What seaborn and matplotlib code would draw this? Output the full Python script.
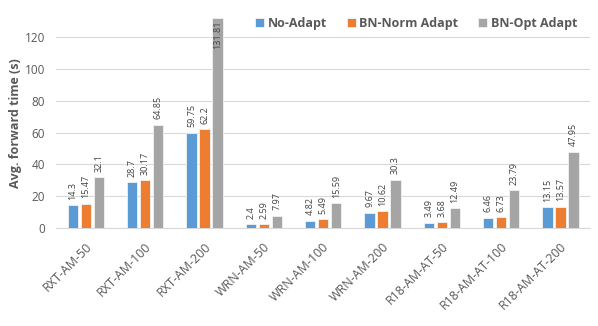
import matplotlib
matplotlib.use("Agg")
import matplotlib.pyplot as plt
import matplotlib.transforms as mtransforms
import seaborn as sns
import pandas as pd

categories = ["RXT-AM-50", "RXT-AM-100", "RXT-AM-200", "WRN-AM-50", "WRN-AM-100",
              "WRN-AM-200", "R18-AM-AT-50", "R18-AM-AT-100", "R18-AM-AT-200"]
series_names = ["No-Adapt", "BN-Norm Adapt", "BN-Opt Adapt"]
no_adapt = [14.3, 28.7, 59.75, 2.4, 4.82, 9.67, 3.49, 6.46, 13.15]
bn_norm = [15.47, 30.17, 62.2, 2.59, 5.49, 10.62, 3.68, 6.73, 13.57]
bn_opt = [32.1, 64.85, 131.81, 7.97, 15.59, 30.3, 12.49, 23.79, 47.95]
y_ticks = [0, 20, 40, 60, 80, 100, 120]

colors = ["#5B9BD5", "#ED7D31", "#A5A5A5"]
text_grey = "#595959"
grid_grey = "#D9D9D9"

rows = []
for name, vals in zip(series_names, [no_adapt, bn_norm, bn_opt]):
    for c, v in zip(categories, vals):
        rows.append({"category": c, "series": name, "value": v})
df = pd.DataFrame(rows)

sns.set_style("white")
plt.rcParams["font.family"] = ["Open Sans", "DejaVu Sans"]

fig = plt.figure(figsize=(5.98, 3.26), dpi=100)
ax = fig.add_axes([0.094, 0.300, 0.893, 0.645])

sns.barplot(data=df, x="category", y="value", hue="series", order=categories,
            hue_order=series_names, palette=colors, width=0.66, gap=0.2,
            edgecolor="#F2F2F2", linewidth=0.6, ax=ax, legend=True, saturation=1,
            zorder=3)

ymax = 132
ax.set_ylim(0, ymax)
ax.set_yticks(y_ticks)
ax.set_xlim(-0.5, len(categories) - 0.5)
ax.grid(axis="y", color=grid_grey, linewidth=0.8, zorder=0)
ax.set_axisbelow(True)
for s in ["left", "right", "top"]:
    ax.spines[s].set_visible(False)
ax.spines["bottom"].set_color(grid_grey)
ax.spines["bottom"].set_linewidth(0.8)

ax.tick_params(axis="y", length=0, labelsize=8.5, labelcolor=text_grey, pad=8)
ax.tick_params(axis="x", length=0, labelsize=9, labelcolor=text_grey, pad=12)
shift = mtransforms.ScaledTranslation(4 / 100, 0, fig.dpi_scale_trans)
for lbl in ax.get_xticklabels():
    lbl.set_rotation(45)
    lbl.set_ha("right")
    lbl.set_va("center")
    lbl.set_rotation_mode("anchor")
    lbl.set_transform(lbl.get_transform() + shift)
ax.set_xlabel("")
ax.set_ylabel("Avg. forward time (s)", fontsize=9, fontweight="bold",
              color=text_grey, labelpad=2)

for container in ax.containers:
    for bar in container:
        h = bar.get_height()
        x = bar.get_x() + bar.get_width() / 2
        label = f"{h:g}"
        if h > ymax - 10:
            ax.annotate(label, (x, ymax), xytext=(0, -2), textcoords="offset points",
                        rotation=90, ha="center", va="top", fontsize=6.5,
                        color="#404040")
        else:
            ax.annotate(label, (x, h), xytext=(0, 4), textcoords="offset points",
                        rotation=90, ha="center", va="bottom", fontsize=6.5,
                        color="#404040")

handles, labels = ax.get_legend_handles_labels()
ax.legend_.remove()
leg = fig.legend(handles, labels, loc="center", bbox_to_anchor=(0.696, 0.929),
                 ncol=3, frameon=False, fontsize=9, handlelength=0.7,
                 handleheight=0.7, handletextpad=0.3, columnspacing=1.6,
                 borderaxespad=0)
for t in leg.get_texts():
    t.set_fontweight("bold")
    t.set_color(text_grey)

fig.savefig("out.png", dpi=100)
